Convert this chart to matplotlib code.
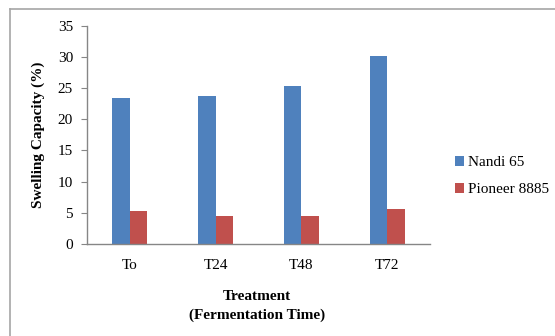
import matplotlib
matplotlib.use("Agg")
import matplotlib.pyplot as plt
import numpy as np
from matplotlib.lines import Line2D

categories = ["To", "T24", "T48", "T72"]
nandi_65 = [23.35, 23.7, 25.3, 30.1]
pioneer_8885 = [5.3, 4.45, 4.45, 5.6]
series_names = ["Nandi 65", "Pioneer 8885"]
yticks = [0, 5, 10, 15, 20, 25, 30, 35]

W, H = 555, 336
fig = plt.figure(figsize=(W / 100, H / 100), dpi=100)
plt.rcParams["font.family"] = ["Liberation Serif", "DejaVu Serif"]

# chart-area frame (top and left edges visible)
fig.add_artist(Line2D([10 / W, 1.0], [1 - 9 / H, 1 - 9 / H], transform=fig.transFigure,
                      color="#a6a6a6", lw=1.2))
fig.add_artist(Line2D([10 / W, 10 / W], [0, 1 - 9 / H], transform=fig.transFigure,
                      color="#a6a6a6", lw=1.2))

left, right = 87 / W, 430 / W
top, bottom = 1 - 25.6 / H, 1 - 244 / H
ax = fig.add_axes([left, bottom, right - left, top - bottom])

x = np.arange(len(categories))
bw = 0.204
blue, red = "#4f81bd", "#c0504d"
ax.bar(x - bw / 2, nandi_65, bw, color=blue, label=series_names[0])
ax.bar(x + bw / 2, pioneer_8885, bw, color=red, label=series_names[1])

ax.set_xlim(-0.5, len(categories) - 0.5)
ax.set_ylim(0, 35)
ax.set_yticks(yticks)
ax.set_yticklabels([str(v) for v in yticks], fontsize=11)
ax.set_xticks(x)
ax.set_xticklabels(categories, fontsize=11)
ax.tick_params(axis="x", length=0, pad=11)
ax.tick_params(axis="y", length=4, width=0.8, color="#868686", pad=6, direction="out")

for s in ["top", "right"]:
    ax.spines[s].set_visible(False)
for s in ["left", "bottom"]:
    ax.spines[s].set_color("#868686")
    ax.spines[s].set_linewidth(1.0)

ax.set_ylabel("Swelling Capacity (%)", fontsize=11, fontweight="bold", labelpad=9)
fig.text((left + right) / 2 - 0.003, 1 - 297 / H, "Treatment", ha="center", va="center",
         fontsize=11, fontweight="bold")
fig.text((left + right) / 2 - 0.003, 1 - 315 / H, "(Fermentation Time)", ha="center",
         va="center", fontsize=11, fontweight="bold")

ax.legend(loc="center left", bbox_to_anchor=(441 / W, 1 - 176 / H),
          bbox_transform=fig.transFigure, frameon=False, fontsize=11,
          handlelength=0.6, handleheight=0.6, handletextpad=0.3, labelspacing=0.9)

fig.savefig("out.png", dpi=100)
